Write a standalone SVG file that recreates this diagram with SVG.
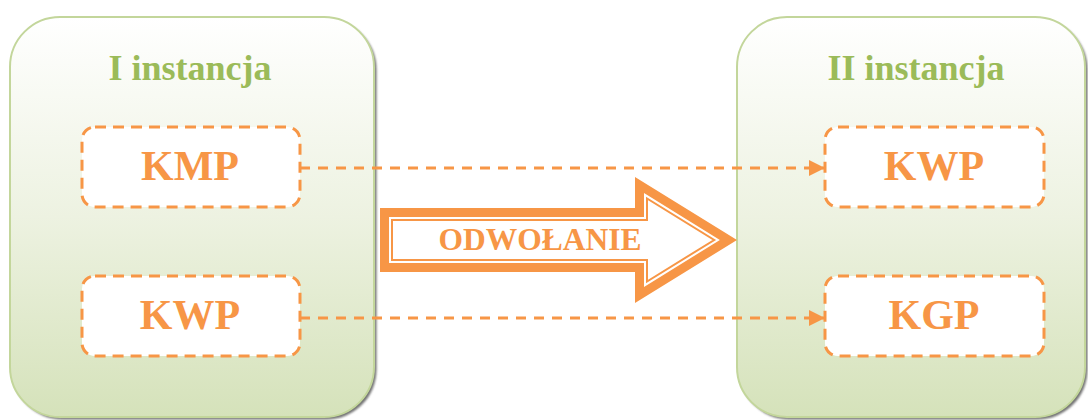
<svg xmlns="http://www.w3.org/2000/svg" width="1088" height="420" viewBox="0 0 1088 420">
  <style>
    .panel { stroke: #C3D69B; stroke-width: 2; fill: url(#panelFill); }
    .shadow { fill: #5a5a5a; opacity: 0.85; filter: url(#soft); }
    .title { font-family: "Liberation Serif", "Times New Roman", serif; font-weight: bold; font-size: 36px; fill: #9BBB59; text-anchor: middle; }
    .item { fill: #FFFFFF; stroke: #F79646; stroke-width: 3; stroke-dasharray: 11 7; }
    .label { font-family: "Liberation Serif", "Times New Roman", serif; font-weight: bold; font-size: 42px; fill: #F79646; text-anchor: middle; }
    .link { fill: none; stroke: #F79646; stroke-width: 2.8; stroke-dasharray: 10 8; }
    .big { font-family: "Liberation Serif", "Times New Roman", serif; font-weight: bold; font-size: 31.5px; fill: #F79646; text-anchor: middle; }
  </style>
  <defs>
    <linearGradient id="panelFill" x1="0" y1="0" x2="0" y2="1">
      <stop offset="0" stop-color="#FFFFFF"/>
      <stop offset="0.5" stop-color="#EDF2E1"/>
      <stop offset="1" stop-color="#D5E2BA"/>
    </linearGradient>
    <filter id="soft" x="-5%" y="-5%" width="110%" height="110%">
      <feGaussianBlur stdDeviation="0.8"/>
    </filter>
    <marker id="tri" viewBox="0 0 16 16" refX="16" refY="8" markerWidth="16" markerHeight="16" markerUnits="userSpaceOnUse" orient="auto">
      <path d="M0,0 L16,8 L0,16 Z" fill="#F79646"/>
    </marker>
  </defs>

  <!-- first instance panel -->
  <g id="instance-1">
    <rect class="shadow" x="12.5" y="19.5" width="364" height="400" rx="50"/>
    <rect class="panel" x="10" y="17" width="364" height="400" rx="50"/>
    <text class="title" x="190" y="80">I instancja</text>
  </g>

  <!-- second instance panel -->
  <g id="instance-2">
    <rect class="shadow" x="739.5" y="19.5" width="348" height="400" rx="50"/>
    <rect class="panel" x="737" y="17" width="348" height="400" rx="50"/>
    <text class="title" x="916" y="80">II instancja</text>
  </g>

  <g id="kmp">
    <rect class="item" x="82" y="127" width="218" height="80" rx="13"/>
    <text class="label" x="190" y="180">KMP</text>
  </g>
  <g id="kwp-1">
    <rect class="item" x="82" y="276" width="218" height="80" rx="13"/>
    <text class="label" x="190" y="329">KWP</text>
  </g>
  <g id="kwp-2">
    <rect class="item" x="825" y="127" width="219" height="80" rx="13"/>
    <text class="label" x="934" y="180">KWP</text>
  </g>
  <g id="kgp">
    <rect class="item" x="825" y="276" width="219" height="80" rx="13"/>
    <text class="label" x="934" y="329">KGP</text>
  </g>

  <!-- big double-outlined arrow -->
  <g id="odwolanie">
    <polygon points="380,208 635,208 635,177 737,240 635,303 635,272 380,272" fill="#F79646"/>
    <polygon points="389,217 644,217 644,193.1 719.9,240 644,286.9 644,263 389,263" fill="#FFFFFF"/>
    <polygon points="392,220 647,220 647,198.5 714.2,240 647,281.5 647,260 392,260" fill="#FFFFFF" stroke="#F79646" stroke-width="2"/>
    <text class="big" x="540" y="250">ODWOŁANIE</text>
  </g>

  <g id="connectors">
    <line class="link" x1="300" y1="168" x2="825" y2="168" marker-end="url(#tri)"/>
    <line class="link" x1="300" y1="318" x2="825" y2="318" marker-end="url(#tri)"/>
  </g>
</svg>
